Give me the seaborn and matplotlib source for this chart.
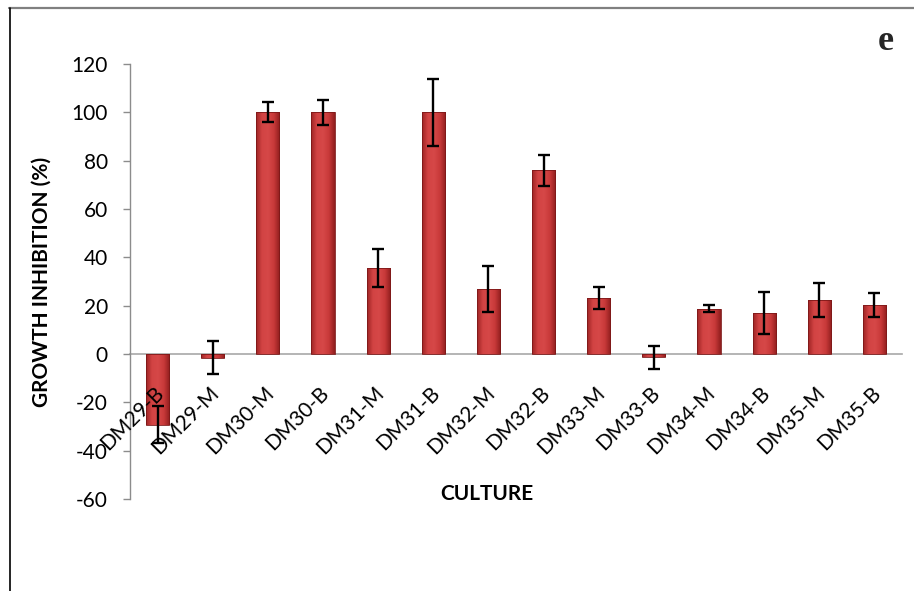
import numpy as np
import matplotlib
matplotlib.use("Agg")
import matplotlib.pyplot as plt
import matplotlib.transforms as mtransforms
from matplotlib.colors import LinearSegmentedColormap
from matplotlib.lines import Line2D
import seaborn as sns

# Growth inhibition per culture extract (mean and error)
cultures = ["DM29-B", "DM29-M", "DM30-M", "DM30-B", "DM31-M", "DM31-B", "DM32-M",
            "DM32-B", "DM33-M", "DM33-B", "DM34-M", "DM34-B", "DM35-M", "DM35-B"]
inhibition = [-29.3, -1.5, 100.0, 100.0, 35.5, 100.0, 27.0,
              76.0, 23.2, -1.3, 18.8, 17.0, 22.5, 20.3]
error = [7.7, 6.8, 4.2, 5.2, 7.8, 13.9, 9.6,
         6.3, 4.7, 4.8, 1.5, 8.6, 7.0, 4.8]
y_ticks = [-60, -40, -20, 0, 20, 40, 60, 80, 100, 120]

sns.set_theme(style="white")
plt.rcParams["font.family"] = ["Lato", "DejaVu Sans"]

W, H = 914, 591
fig = plt.figure(figsize=(W / 100, H / 100), dpi=100)
ax = fig.add_axes([130 / W, 1 - 499 / H, (902 - 130) / W, (499 - 64) / H])

sns.barplot(x=cultures, y=inhibition, color="#c93a3a", saturation=1,
            width=0.42, ax=ax, zorder=2)

# shaded red fill inside each bar
bar_cmap = LinearSegmentedColormap.from_list(
    "bar", ["#9c2424", "#d24343", "#d64848", "#c83939", "#8e1d1d"])
grad = np.linspace(0, 1, 256).reshape(1, -1)
for p in list(ax.patches):
    x0, y0, x1, y1 = p.get_bbox().extents
    lo, hi = min(y0, y1), max(y0, y1)
    im = ax.imshow(grad, extent=[x0, x1, lo, hi], aspect="auto", cmap=bar_cmap,
                   origin="lower", zorder=1.9, interpolation="bilinear")
    im.set_clip_path(p)
    p.set_facecolor("none")
    p.set_edgecolor("#7d1818")
    p.set_linewidth(0.6)

ax.errorbar(range(len(cultures)), inhibition, yerr=error, fmt="none",
            ecolor="black", elinewidth=1.7, capsize=4.2, capthick=1.7, zorder=4)

ax.set_axisbelow(False)
ax.set_xlim(-0.5, len(cultures) - 0.5)
ax.set_ylim(-60, 120)
ax.set_yticks(y_ticks)
ax.set_yticklabels([str(v) for v in y_ticks])

for s in ("top", "right"):
    ax.spines[s].set_visible(False)
ax.spines["bottom"].set_position(("data", 0))
ax.spines["bottom"].set_color("#a8a8a8")
ax.spines["bottom"].set_linewidth(1.2)
ax.spines["bottom"].set_zorder(1.8)
ax.spines["left"].set_color("#8c8c8c")
ax.spines["left"].set_linewidth(1.0)

ax.tick_params(axis="y", direction="out", length=5, width=1, color="#8c8c8c",
               labelsize=15, pad=11, labelcolor="black", left=True)
ax.tick_params(axis="x", length=0, labelsize=15, pad=26, labelcolor="black")

shift = mtransforms.ScaledTranslation(3 / 100, 0, fig.dpi_scale_trans)
for lab in ax.get_xticklabels():
    lab.set_rotation(45)
    lab.set_ha("right")
    lab.set_va("center")
    lab.set_rotation_mode("anchor")
    lab.set_transform(lab.get_transform() + shift)

ax.set_xlabel("CULTURE", fontsize=15, fontweight="bold", color="black")
ax.xaxis.set_label_coords((487 - 130) / 772, (499 - 484) / 435)
ax.set_ylabel("GROWTH INHIBITION (%)", fontsize=15, fontweight="bold", color="black")
ax.yaxis.set_label_coords((52 - 130) / 772, 0.5)

fig.text(886 / W, 1 - 41 / H, "e", family=["Liberation Serif", "DejaVu Serif"],
         fontweight="bold", fontsize=26, ha="center", va="center")

# page frame lines
fig.add_artist(Line2D([9 / W, 1], [1 - 7.5 / H] * 2, color="#808080", lw=1.6,
                      transform=fig.transFigure))
fig.add_artist(Line2D([9.5 / W] * 2, [0, 1 - 7.5 / H], color="black", lw=1.2,
                      transform=fig.transFigure))

fig.savefig("out.png", dpi=100)
